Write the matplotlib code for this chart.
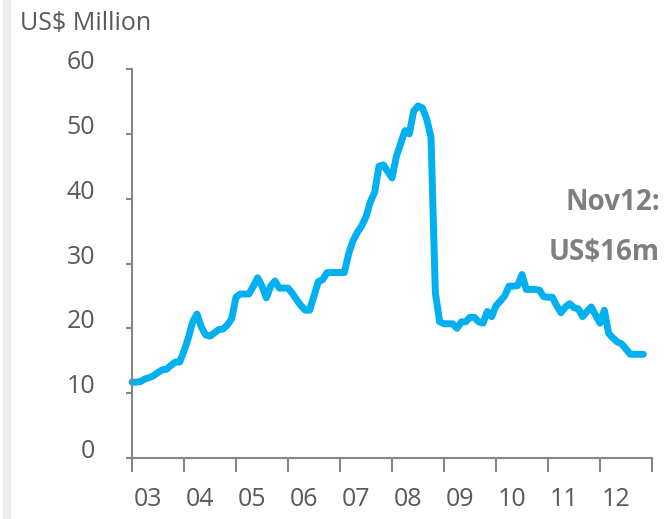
import numpy as np
import matplotlib
matplotlib.use("Agg")
from matplotlib import pyplot as plt
from matplotlib.patches import Rectangle

plt.rcParams['font.family'] = ['Open Sans', 'DejaVu Sans']

# monthly values, Jan 2003 .. Nov 2012 (US$ million)
v2003 = [11.7, 11.7, 11.8, 12.2, 12.4, 12.7, 13.2, 13.6, 13.7, 14.3, 14.8, 14.8]
v2004 = [16.5, 18.5, 21.0, 22.2, 20.2, 19.0, 18.8, 19.3, 19.8, 19.9, 20.5, 21.5]
v2005 = [24.8, 25.3, 25.3, 25.3, 26.5, 27.8, 26.5, 24.7, 26.5, 27.3, 26.2, 26.2]
v2006 = [26.2, 25.4, 24.4, 23.5, 22.8, 22.8, 25.0, 27.2, 27.5, 28.6, 28.6, 28.6]
v2007 = [28.6, 28.6, 31.5, 33.5, 34.8, 35.8, 37.2, 39.5, 41.0, 45.0, 45.2, 44.2]
v2008 = [43.2, 46.5, 48.5, 50.5, 50.0, 53.5, 54.3, 54.0, 52.3, 49.5, 25.5, 21.0]
v2009 = [20.7, 20.7, 20.7, 20.0, 21.0, 21.0, 21.7, 21.7, 21.0, 20.8, 22.6, 21.8]
v2010 = [23.5, 24.2, 25.0, 26.5, 26.5, 26.6, 28.3, 26.0, 26.0, 26.0, 25.9, 24.9]
v2011 = [24.8, 24.8, 23.5, 22.4, 23.3, 23.8, 23.2, 23.0, 21.8, 22.6, 23.3, 22.0]
v2012 = [20.8, 22.8, 19.2, 18.5, 17.9, 17.6, 16.8, 16.0, 16.0, 16.0, 16.0]

values = v2003 + v2004 + v2005 + v2006 + v2007 + v2008 + v2009 + v2010 + v2011 + v2012
years = list(range(2003, 2014))
year_labels = ["03", "04", "05", "06", "07", "08", "09", "10", "11", "12"]
y_ticks = [0, 10, 20, 30, 40, 50, 60]

dates = 2003 + np.arange(len(values)) / 12.0

W, H = 671, 519
fig = plt.figure(figsize=(W / 100, H / 100), dpi=100)
ax = fig.add_axes([132 / W, 1 - 458 / H, (652 - 132) / W, (458 - 69) / H])

# light grey strip on the left edge
fig.patches.append(Rectangle((3 / W, 0), 7 / W, 1, transform=fig.transFigure,
                             color="#ececec", zorder=0))

ax.plot(dates, values, color="#00b0f0", lw=5,
        solid_capstyle="round", solid_joinstyle="round", clip_on=False)

ax.set_xlim(2003, 2013)
ax.set_ylim(0, 60)
for s in ["top", "right"]:
    ax.spines[s].set_visible(False)
for s in ["left", "bottom"]:
    ax.spines[s].set_color("#868686")
    ax.spines[s].set_linewidth(1.5)

ax.set_yticks(y_ticks)
ax.tick_params(axis="y", length=4.5, width=1.5, color="#868686",
               labelsize=18, labelcolor="#595959", pad=22)
for lab in ax.get_yticklabels():
    lab.set_verticalalignment("baseline")

ax.set_xticks(years)
ax.set_xticklabels([])
ax.set_xticks([y + 0.31 for y in years[:-1]], minor=True)
ax.set_xticklabels(year_labels, minor=True)
ax.tick_params(axis="x", which="major", length=10, width=1.5, color="#868686")
ax.tick_params(axis="x", which="minor", length=0, labelsize=18,
               labelcolor="#595959", pad=21)

fig.text(20 / W, 1 - 30 / H, "US$ Million", fontsize=18, color="#595959",
         va="baseline", ha="left")
fig.text(660 / W, 1 - 203 / H, "Nov12:", fontsize=20, fontweight="bold",
         color="#7f7f7f", ha="right", va="center")
fig.text(660 / W, 1 - 252 / H, "US$16m", fontsize=20, fontweight="bold",
         color="#7f7f7f", ha="right", va="center")

fig.savefig("out.png", dpi=100)
